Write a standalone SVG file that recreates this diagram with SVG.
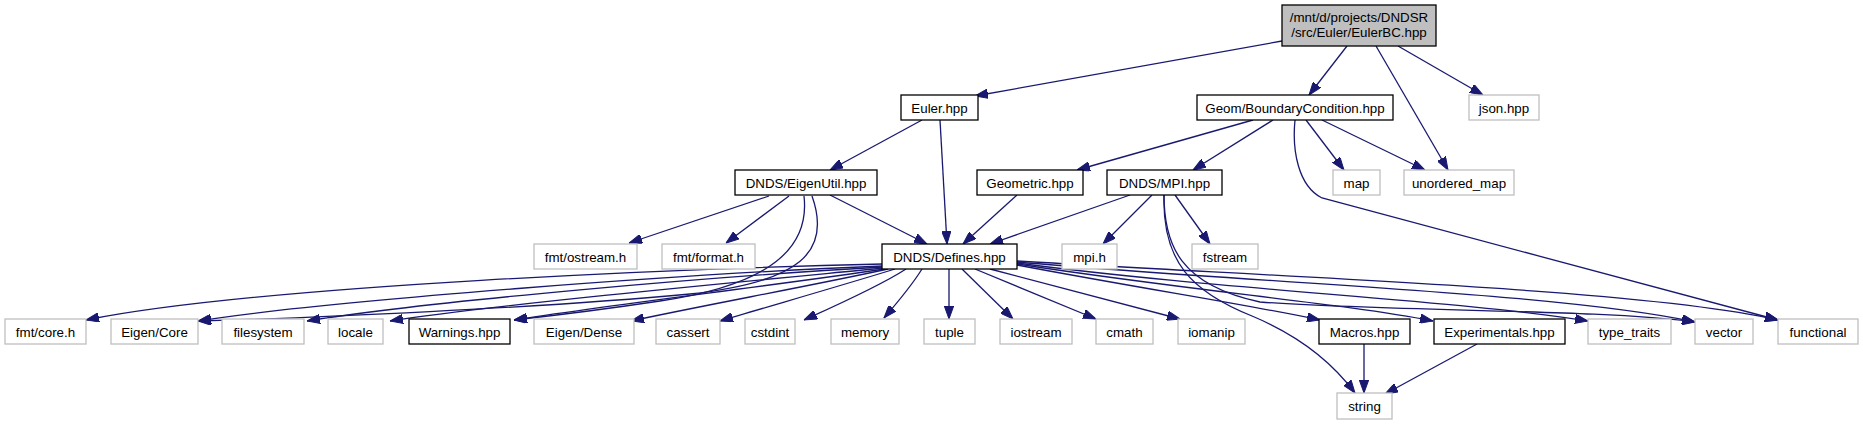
<svg xmlns="http://www.w3.org/2000/svg" width="1863" height="425" viewBox="0 0 1863 425">
<style>
.bg{fill:#ffffff}
.nb rect{fill:#ffffff;stroke:#000000;stroke-width:1.3}
.ng rect{fill:#ffffff;stroke:#bfbfbf;stroke-width:1.3}
.nm rect{fill:#bfbfbf;stroke:#000000;stroke-width:1.3}
text{font-family:"Liberation Sans",Arial,sans-serif;font-size:13.33px;fill:#000000;text-anchor:middle}
.e path{fill:none;stroke:#191970;stroke-width:1.3;marker-end:url(#a)}
</style>
<defs>
<marker id="a" viewBox="0 0 13 9.4" refX="13" refY="4.7" markerWidth="13" markerHeight="9.4" orient="auto" markerUnits="userSpaceOnUse">
<path d="M0,0 L13,4.7 L0,9.4 z" fill="#191970" stroke="#191970" stroke-width="1"/>
</marker>
</defs>
<rect class="bg" x="0" y="0" width="1863" height="425"/>
<g id="edges" class="e">
<path d="M1282,41 L975,96"/>
<path d="M1347,46 L1309,95"/>
<path d="M1376,46 L1448,170"/>
<path d="M1398,46 L1483,95"/>
<path d="M922,120 L830,170"/>
<path d="M940,120 L947,244"/>
<path d="M1253,120 L1077,170"/>
<path d="M1273,120 L1193,170"/>
<path d="M1306,120 L1344,170"/>
<path d="M1322,120 L1425,170"/>
<path d="M1295,120 C1292,150 1298,186 1322,198 L1778,320"/>
<path d="M769,196 L629,243"/>
<path d="M789,196 L726,243"/>
<path d="M830,195 L927,244"/>
<path d="M804,196 C810,248 770,285 660,301 C600,310 550,316 514,320"/>
<path d="M812,196 C832,252 800,282 690,294 C540,308 310,318 198,321"/>
<path d="M1017,195 L963,244"/>
<path d="M1130,195 L990,244"/>
<path d="M1152,195 L1103,244"/>
<path d="M1175,195 L1210,244"/>
<path d="M883,264 C700,268 260,285 86,320"/>
<path d="M883,266 C700,273 330,300 198,321"/>
<path d="M883,267 C720,276 430,301 307,321"/>
<path d="M884,268 C750,281 490,305 390,321"/>
<path d="M885,269 C770,286 610,305 514,320"/>
<path d="M888,269 C810,286 700,306 631,321"/>
<path d="M895,269 C840,286 770,306 720,321"/>
<path d="M906,269 C880,286 835,306 804,320"/>
<path d="M922,269 C912,285 897,303 884,318"/>
<path d="M949,269 L949,319"/>
<path d="M962,269 L1013,319"/>
<path d="M975,269 L1096,319"/>
<path d="M990,269 L1180,319"/>
<path d="M1017,265 C1150,290 1250,305 1320,320"/>
<path d="M1017,264 C1200,292 1340,303 1433,321"/>
<path d="M1017,263 C1220,290 1460,300 1588,321"/>
<path d="M1017,262 C1260,283 1560,293 1695,322"/>
<path d="M1017,261 C1300,278 1650,290 1778,320"/>
<path d="M1164,195 C1164,245 1180,285 1260,302 C1400,312 1600,309 1695,322"/>
<path d="M1164,195 C1162,262 1192,292 1252,316 C1300,336 1332,362 1355,393"/>
<path d="M1364,344 L1364,393"/>
<path d="M1477,344 L1385,394"/>
</g>
<g id="n_main" class="nm"><rect x="1282" y="5" width="154" height="41"/><text x="1359" y="21.5">/mnt/d/projects/DNDSR</text><text x="1359" y="36.5">/src/Euler/EulerBC.hpp</text></g>
<g id="n_euler" class="nb"><rect x="901" y="95" width="77" height="25"/><text x="939.5" y="112.5">Euler.hpp</text></g>
<g id="n_bc" class="nb"><rect x="1197" y="95" width="196" height="25"/><text x="1295" y="112.5">Geom/BoundaryCondition.hpp</text></g>
<g id="n_json" class="ng"><rect x="1469" y="95" width="70" height="25"/><text x="1504" y="112.5">json.hpp</text></g>
<g id="n_eigenutil" class="nb"><rect x="735" y="170" width="142" height="25"/><text x="806" y="187.5">DNDS/EigenUtil.hpp</text></g>
<g id="n_geometric" class="nb"><rect x="977" y="170" width="106" height="25"/><text x="1030" y="187.5">Geometric.hpp</text></g>
<g id="n_mpi" class="nb"><rect x="1107" y="170" width="115" height="25"/><text x="1164.5" y="187.5">DNDS/MPI.hpp</text></g>
<g id="n_map" class="ng"><rect x="1333" y="170" width="47" height="25"/><text x="1356.5" y="187.5">map</text></g>
<g id="n_umap" class="ng"><rect x="1404" y="170" width="110" height="25"/><text x="1459" y="187.5">unordered_map</text></g>
<g id="n_ostream" class="ng"><rect x="534" y="244" width="103" height="25"/><text x="585.5" y="261.5">fmt/ostream.h</text></g>
<g id="n_format" class="ng"><rect x="662" y="244" width="93" height="25"/><text x="708.5" y="261.5">fmt/format.h</text></g>
<g id="n_defines" class="nb"><rect x="882" y="244" width="135" height="25"/><text x="949.5" y="261.5">DNDS/Defines.hpp</text></g>
<g id="n_mpih" class="ng"><rect x="1062" y="244" width="55" height="25"/><text x="1089.5" y="261.5">mpi.h</text></g>
<g id="n_fstream" class="ng"><rect x="1192" y="244" width="66" height="25"/><text x="1225" y="261.5">fstream</text></g>
<g id="n_fmtcore" class="ng"><rect x="5" y="319" width="81" height="25"/><text x="45.5" y="336.5">fmt/core.h</text></g>
<g id="n_eigencore" class="ng"><rect x="111" y="319" width="87" height="25"/><text x="154.5" y="336.5">Eigen/Core</text></g>
<g id="n_filesystem" class="ng"><rect x="222" y="319" width="82" height="25"/><text x="263" y="336.5">filesystem</text></g>
<g id="n_locale" class="ng"><rect x="328" y="319" width="55" height="25"/><text x="355.5" y="336.5">locale</text></g>
<g id="n_warnings" class="nb"><rect x="409" y="319" width="101" height="25"/><text x="459.5" y="336.5">Warnings.hpp</text></g>
<g id="n_eigendense" class="ng"><rect x="534" y="319" width="100" height="25"/><text x="584" y="336.5">Eigen/Dense</text></g>
<g id="n_cassert" class="ng"><rect x="656" y="319" width="64" height="25"/><text x="688" y="336.5">cassert</text></g>
<g id="n_cstdint" class="ng"><rect x="745" y="319" width="50" height="25"/><text x="770" y="336.5">cstdint</text></g>
<g id="n_memory" class="ng"><rect x="831" y="319" width="68" height="25"/><text x="865" y="336.5">memory</text></g>
<g id="n_tuple" class="ng"><rect x="924" y="319" width="51" height="25"/><text x="949.5" y="336.5">tuple</text></g>
<g id="n_iostream" class="ng"><rect x="1000" y="319" width="72" height="25"/><text x="1036" y="336.5">iostream</text></g>
<g id="n_cmath" class="ng"><rect x="1096" y="319" width="57" height="25"/><text x="1124.5" y="336.5">cmath</text></g>
<g id="n_iomanip" class="ng"><rect x="1178" y="319" width="67" height="25"/><text x="1211.5" y="336.5">iomanip</text></g>
<g id="n_macros" class="nb"><rect x="1319" y="319" width="91" height="25"/><text x="1364.5" y="336.5">Macros.hpp</text></g>
<g id="n_experimentals" class="nb"><rect x="1434" y="319" width="131" height="25"/><text x="1499.5" y="336.5">Experimentals.hpp</text></g>
<g id="n_typetraits" class="ng"><rect x="1588" y="319" width="83" height="25"/><text x="1629.5" y="336.5">type_traits</text></g>
<g id="n_vector" class="ng"><rect x="1695" y="319" width="58" height="25"/><text x="1724" y="336.5">vector</text></g>
<g id="n_functional" class="ng"><rect x="1778" y="319" width="80" height="25"/><text x="1818" y="336.5">functional</text></g>
<g id="n_string" class="ng"><rect x="1337" y="393" width="55" height="26"/><text x="1364.5" y="410.5">string</text></g>
</svg>
